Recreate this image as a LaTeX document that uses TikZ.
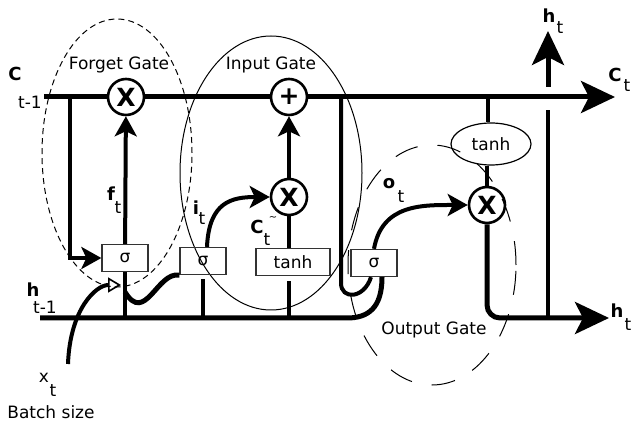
\documentclass[tikz,border=0pt]{standalone}
\usepackage{fontspec}
\setmainfont{DejaVu Sans}
\usetikzlibrary{arrows.meta, positioning, calc, shapes.geometric}

\begin{document}
\begin{tikzpicture}[x=1pt, y=-1pt,
  gatebox/.style={rectangle, draw=black!80, line width=1.3pt, minimum width=46pt, minimum height=27pt, inner sep=0pt, font=\fontsize{17}{17}\selectfont},
  op/.style={circle, draw, line width=2.6pt, minimum size=36pt, inner sep=0pt, font=\fontsize{25}{25}\selectfont\bfseries},
  lbl/.style={font=\fontsize{17}{17}\selectfont, inner sep=0pt},
  vec/.style={font=\fontsize{18}{18}\selectfont\bfseries, inner sep=0pt},
  wire/.style={line width=4pt},
  bus/.style={line width=5pt},
  arrow/.style={wire, -{Stealth[length=20pt, width=22pt, inset=5pt]}},
  bigarrow/.style={bus, -{Stealth[length=34pt, width=32pt, inset=8pt]}}
]
\useasboundingbox (0,0) rectangle (632,430);

\draw[dash pattern=on 6pt off 4pt, line width=1pt] (117,153) ellipse [x radius=75pt, y radius=134pt];
\draw[line width=1pt] (271,173) ellipse [x radius=91pt, y radius=137pt];
\draw[dash pattern=on 24pt off 20pt, line width=1pt] (432,265) ellipse [x radius=84pt, y radius=120pt];

\node[op] (fmul) at (126,97) {X};
\node[op] (cadd) at (289,97) {+};
\node[op] (imul) at (289,197) {X};
\node[op] (omul) at (487,205) {X};
\node[gatebox] (fsig) at (125,258) {σ};
\node[gatebox] (isig) at (203,261) {σ};
\node[gatebox, minimum width=74pt] (ctanh) at (293,262) {tanh};
\node[gatebox] (osig) at (374,263) {σ};
\node[ellipse, draw, line width=1.2pt, minimum width=80pt, minimum height=42pt, inner sep=0pt, font=\fontsize{17}{17}\selectfont] (htanh) at (491,144) {tanh};

\coordinate (cin) at (44,97);
\coordinate (cout) at (615,97);
\coordinate (cfork) at (70,97);
\coordinate (cpeep) at (341,97);
\coordinate (ctap) at (488,97);
\coordinate (hin) at (40,318);
\coordinate (hbend) at (347,318);
\coordinate (hout) at (609,318);
\coordinate (hup) at (548,318);
\coordinate (hgap) at (548,110);
\coordinate (hgapt) at (548,87);
\coordinate (htop) at (548,31);
\coordinate (xin) at (68,364);
\coordinate (xtip) at (121,285);
\coordinate (xjoin) at (125,292);

\draw[bus] (cin) -- (fmul);
\draw[bus] (fmul) -- (cadd);
\draw[bigarrow] (cadd) -- (cout);
\draw[arrow] (cfork) |- (fsig);
\draw[arrow] (fsig) -- (fmul);
\draw[wire] (fsig.south |- hin) -- (fsig.south);
\draw[wire, shorten >=4pt] (isig.south |- hin) -- (isig.south);
\draw[wire, shorten >=5pt] (imul |- hin) -- (imul |- ctanh.south);
\draw[wire] (imul |- ctanh.north) -- (imul);
\draw[arrow] (imul) -- (cadd);
\draw[bus] (hin) -- (hbend) .. controls +(21,0) and +(0,31) .. ($(osig.south)+(8,0)$);
\draw[wire] (cpeep) -- ++(0,186) .. controls +(0,17) and +(-7,22) .. ($(osig.south)+(-3,0)$);
\draw[bus] (xjoin) .. controls +(20,33) and +(-22,-4) .. (isig.south west);
\draw[arrow] ($(isig.north)+(4,0)$) .. controls +(2,-45) and +(-38,0) .. (imul.west);
\draw[arrow] (osig.north) .. controls +(8,-45) and +(-45,0) .. (omul.west);
\draw[wire] (ctap) -- (ctap |- htanh.north);
\draw[wire] (htanh.south -| omul) -- (omul);
\draw[bigarrow, rounded corners=13pt] (omul.south) |- (hout);
\draw[wire] (hup) -- (hgap);
\draw[bigarrow] (hgapt) -- (htop);
\draw[wire, -{Triangle[open, length=13pt, width=15pt, line width=1.6pt]}] (xin) .. controls +(2,-55) and +(-25,0) .. (xtip);

\node[lbl] (fgate) at (119,65) {Forget Gate};
\node[lbl] (igate) at (271,65) {Input Gate};
\node[lbl] (ogate) at (434,330) {Output Gate};
\node[vec] (cprev) at (15,74) {C};
\node[lbl] (cprevt) at (30,102) {t-1};
\node[vec] (hprev) at (33,290) {h};
\node[lbl] (hprevt) at (45,307) {t-1};
\node[vec] (fvec) at (111,194) {f};
\node[lbl] (fvect) at (118,208) {t};
\node[vec] (ivec) at (196,208) {i};
\node[lbl] (ivect) at (202,219) {t};
\node[vec] (ctil) at (257,227) {C};
\node[lbl] (ctilt) at (267,240) {t};
\node[font=\fontsize{10}{10}\selectfont, inner sep=0pt] (ctilw) at (273,219) {\char`\~};
\node[vec] (ovec) at (389,184) {o};
\node[lbl] (ovect) at (401,197) {t};
\node[vec] (cnext) at (615,75) {C};
\node[lbl] (cnextt) at (627,86) {t};
\node[vec] (htopl) at (549,16) {h};
\node[lbl] (htoplt) at (560,28) {t};
\node[vec] (hnext) at (617,311) {h};
\node[lbl] (hnextt) at (628,325) {t};
\node[lbl] (xvec) at (44,378) {x};
\node[lbl] (xvect) at (53,391) {t};
\node[lbl] (batch) at (51,412) {Batch size};
\end{tikzpicture}
\end{document}
